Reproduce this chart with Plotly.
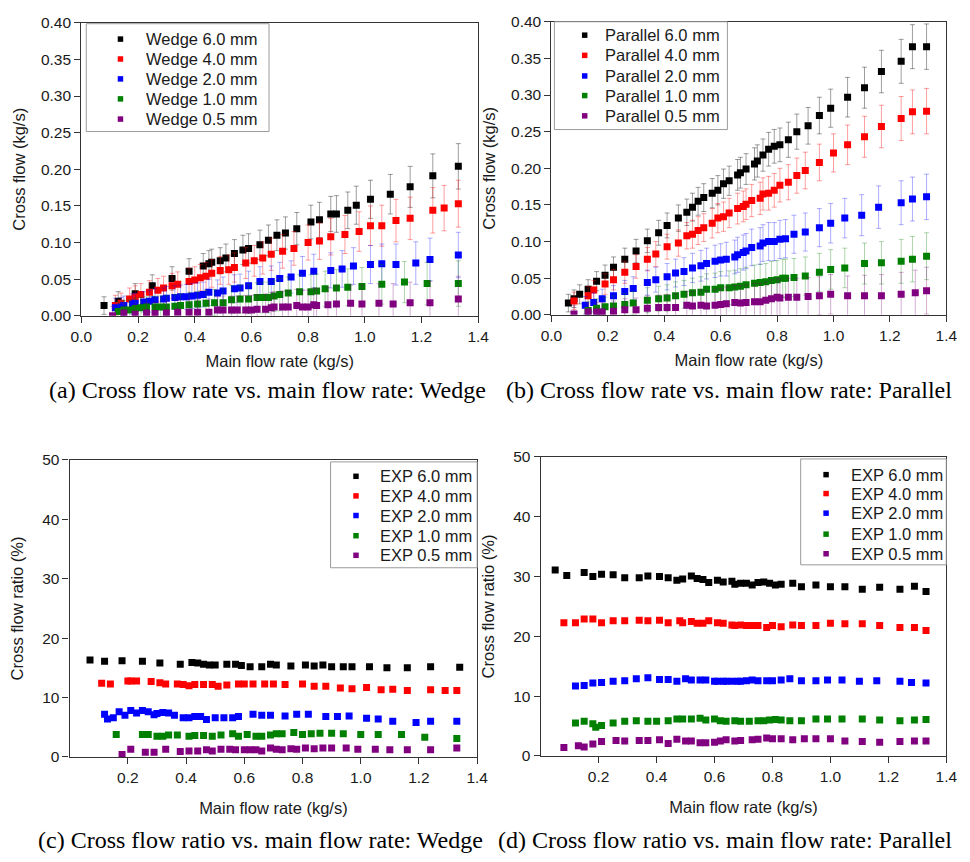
import plotly.graph_objects as go

W, H = 970, 862

# ---------------- data ----------------
# (a) Wedge: cross flow (kg/s) vs main flow rate (kg/s)
A6_x = [0.08,0.13,0.19,0.25,0.32,0.38,0.43,0.45,0.46,0.49,0.51,0.54,0.57,0.59,0.63,0.66,0.69,0.72,0.76,0.81,0.84,0.88,0.90,0.94,0.97,1.02,1.09,1.16,1.24,1.33]
A6_y = [0.014,0.020,0.030,0.041,0.051,0.061,0.068,0.071,0.073,0.075,0.079,0.085,0.090,0.092,0.097,0.103,0.110,0.113,0.119,0.128,0.131,0.139,0.139,0.144,0.151,0.159,0.166,0.176,0.191,0.204]
A6_e = [0.012,0.013,0.014,0.015,0.016,0.017,0.017,0.018,0.018,0.018,0.019,0.019,0.020,0.020,0.020,0.021,0.021,0.022,0.022,0.023,0.024,0.024,0.025,0.025,0.026,0.026,0.027,0.028,0.030,0.031]

A4_x = [0.12,0.14,0.17,0.19,0.21,0.24,0.27,0.29,0.32,0.34,0.38,0.40,0.42,0.44,0.46,0.49,0.52,0.54,0.58,0.61,0.64,0.67,0.71,0.75,0.80,0.84,0.88,0.93,0.98,1.02,1.06,1.11,1.16,1.24,1.28,1.33]
A4_y = [0.014,0.017,0.023,0.026,0.029,0.032,0.035,0.038,0.041,0.043,0.047,0.049,0.052,0.054,0.058,0.062,0.063,0.066,0.072,0.075,0.079,0.084,0.088,0.092,0.100,0.102,0.108,0.111,0.115,0.123,0.123,0.130,0.133,0.144,0.147,0.153]
A4_e = [0.014,0.014,0.015,0.015,0.015,0.016,0.016,0.016,0.017,0.017,0.018,0.018,0.018,0.019,0.019,0.019,0.020,0.020,0.021,0.021,0.022,0.022,0.023,0.023,0.024,0.025,0.025,0.026,0.027,0.027,0.028,0.029,0.029,0.031,0.031,0.032]

A2_x = [0.12,0.14,0.15,0.18,0.19,0.22,0.24,0.26,0.29,0.30,0.33,0.35,0.37,0.39,0.41,0.43,0.45,0.48,0.50,0.54,0.56,0.59,0.63,0.67,0.70,0.74,0.78,0.82,0.88,0.92,0.96,1.02,1.06,1.11,1.18,1.23,1.33]
A2_y = [0.011,0.012,0.014,0.016,0.017,0.019,0.020,0.022,0.023,0.024,0.025,0.026,0.026,0.027,0.028,0.029,0.032,0.031,0.034,0.037,0.038,0.041,0.047,0.047,0.051,0.053,0.058,0.061,0.062,0.064,0.068,0.070,0.071,0.070,0.072,0.077,0.083]
A2_e = [0.013,0.013,0.013,0.014,0.014,0.014,0.015,0.015,0.015,0.016,0.016,0.016,0.017,0.017,0.017,0.017,0.018,0.018,0.019,0.019,0.019,0.020,0.020,0.021,0.022,0.022,0.023,0.023,0.024,0.025,0.025,0.026,0.027,0.028,0.029,0.029,0.031]

A1_x = [0.13,0.15,0.17,0.19,0.21,0.23,0.26,0.28,0.30,0.33,0.35,0.38,0.41,0.44,0.47,0.50,0.53,0.56,0.59,0.62,0.64,0.66,0.68,0.70,0.73,0.77,0.81,0.83,0.86,0.90,0.94,0.99,1.06,1.14,1.22,1.33]
A1_y = [0.006,0.008,0.008,0.010,0.011,0.012,0.012,0.012,0.012,0.013,0.014,0.015,0.016,0.017,0.018,0.018,0.022,0.023,0.023,0.025,0.025,0.025,0.027,0.029,0.031,0.033,0.033,0.034,0.037,0.038,0.039,0.040,0.043,0.046,0.044,0.044]
A1_e = [0.013,0.013,0.014,0.014,0.014,0.014,0.015,0.015,0.016,0.016,0.016,0.017,0.017,0.018,0.018,0.019,0.019,0.019,0.020,0.020,0.021,0.021,0.021,0.022,0.022,0.023,0.023,0.023,0.024,0.025,0.025,0.026,0.027,0.028,0.029,0.031]

A05_x = [0.11,0.15,0.19,0.23,0.26,0.30,0.34,0.38,0.41,0.45,0.48,0.50,0.53,0.55,0.58,0.60,0.62,0.65,0.67,0.68,0.71,0.73,0.76,0.78,0.80,0.82,0.83,0.87,0.90,0.95,0.99,1.05,1.10,1.16,1.23,1.33]
A05_y = [0.000,0.004,0.002,0.004,0.003,0.004,0.005,0.005,0.005,0.005,0.008,0.008,0.008,0.008,0.008,0.008,0.009,0.009,0.011,0.012,0.012,0.012,0.014,0.012,0.012,0.015,0.014,0.015,0.016,0.017,0.016,0.017,0.016,0.018,0.018,0.023]
A05_e = [0.013,0.013,0.014,0.014,0.015,0.016,0.016,0.017,0.017,0.018,0.018,0.019,0.019,0.019,0.020,0.020,0.020,0.021,0.021,0.021,0.022,0.022,0.022,0.023,0.023,0.023,0.023,0.024,0.025,0.025,0.026,0.027,0.028,0.028,0.029,0.031]

# (b) Parallel: cross flow (kg/s)
B6_x = [0.06,0.08,0.10,0.13,0.16,0.19,0.22,0.26,0.30,0.34,0.38,0.41,0.45,0.48,0.50,0.52,0.54,0.57,0.59,0.61,0.63,0.66,0.67,0.69,0.72,0.73,0.75,0.77,0.79,0.81,0.84,0.87,0.91,0.95,0.99,1.05,1.11,1.17,1.24,1.28,1.33]
B6_y = [0.016,0.022,0.028,0.035,0.046,0.054,0.065,0.076,0.087,0.101,0.112,0.122,0.132,0.140,0.147,0.155,0.160,0.166,0.170,0.179,0.183,0.191,0.194,0.199,0.206,0.210,0.218,0.226,0.230,0.232,0.239,0.250,0.258,0.272,0.282,0.297,0.310,0.332,0.346,0.366,0.366]
B6_e = [0.012,0.012,0.013,0.013,0.013,0.014,0.014,0.015,0.016,0.016,0.017,0.017,0.018,0.018,0.019,0.019,0.019,0.020,0.020,0.020,0.020,0.021,0.021,0.021,0.022,0.022,0.022,0.023,0.023,0.023,0.024,0.024,0.025,0.025,0.026,0.027,0.028,0.029,0.030,0.030,0.031]

B4_x = [0.08,0.13,0.15,0.19,0.22,0.26,0.30,0.34,0.37,0.41,0.45,0.48,0.50,0.52,0.54,0.57,0.59,0.61,0.63,0.66,0.68,0.69,0.71,0.74,0.75,0.77,0.79,0.81,0.84,0.87,0.90,0.95,1.00,1.05,1.11,1.17,1.24,1.28,1.33]
B4_y = [0.019,0.026,0.034,0.042,0.048,0.058,0.066,0.076,0.083,0.093,0.098,0.108,0.110,0.115,0.119,0.125,0.132,0.134,0.139,0.145,0.148,0.151,0.156,0.159,0.165,0.166,0.170,0.177,0.181,0.190,0.197,0.208,0.221,0.232,0.243,0.257,0.268,0.277,0.278]
B4_e = [0.012,0.013,0.013,0.014,0.014,0.015,0.016,0.016,0.017,0.017,0.018,0.018,0.019,0.019,0.019,0.020,0.020,0.020,0.020,0.021,0.021,0.021,0.022,0.022,0.022,0.023,0.023,0.023,0.024,0.024,0.025,0.025,0.026,0.027,0.028,0.029,0.030,0.030,0.031]

B2_x = [0.12,0.15,0.18,0.22,0.26,0.29,0.34,0.37,0.41,0.44,0.47,0.50,0.53,0.55,0.58,0.60,0.62,0.65,0.66,0.68,0.69,0.71,0.74,0.75,0.77,0.79,0.81,0.83,0.86,0.90,0.95,0.99,1.04,1.10,1.16,1.24,1.28,1.33]
B2_y = [0.013,0.017,0.022,0.026,0.032,0.036,0.044,0.048,0.052,0.057,0.059,0.064,0.067,0.070,0.073,0.075,0.076,0.079,0.082,0.085,0.087,0.092,0.094,0.098,0.100,0.100,0.103,0.104,0.110,0.113,0.119,0.125,0.132,0.136,0.147,0.153,0.158,0.161]
B2_e = [0.012,0.013,0.013,0.014,0.015,0.016,0.017,0.017,0.018,0.019,0.019,0.020,0.021,0.021,0.022,0.022,0.023,0.023,0.024,0.024,0.024,0.025,0.025,0.025,0.026,0.026,0.026,0.026,0.026,0.026,0.026,0.027,0.027,0.028,0.029,0.030,0.030,0.031]

B1_x = [0.13,0.16,0.19,0.22,0.26,0.29,0.34,0.38,0.41,0.44,0.47,0.50,0.53,0.55,0.58,0.60,0.63,0.65,0.67,0.69,0.72,0.74,0.76,0.78,0.80,0.82,0.83,0.86,0.90,0.95,0.99,1.04,1.11,1.17,1.24,1.28,1.33]
B1_y = [0.006,0.009,0.011,0.012,0.014,0.016,0.020,0.022,0.023,0.026,0.028,0.030,0.031,0.035,0.035,0.037,0.037,0.038,0.039,0.041,0.043,0.044,0.045,0.047,0.048,0.050,0.050,0.051,0.053,0.058,0.062,0.064,0.070,0.071,0.073,0.076,0.080]
B1_e = [0.012,0.013,0.013,0.014,0.015,0.016,0.017,0.017,0.018,0.019,0.019,0.020,0.021,0.021,0.022,0.022,0.023,0.023,0.024,0.024,0.025,0.025,0.025,0.026,0.026,0.026,0.026,0.026,0.026,0.026,0.027,0.027,0.028,0.029,0.030,0.031,0.032]

B05_x = [0.08,0.13,0.16,0.18,0.22,0.26,0.30,0.34,0.38,0.41,0.44,0.48,0.50,0.53,0.55,0.58,0.60,0.62,0.65,0.67,0.69,0.72,0.74,0.76,0.78,0.80,0.81,0.84,0.87,0.91,0.95,0.99,1.05,1.11,1.17,1.24,1.29,1.33]
B05_y = [0.001,0.004,0.004,0.004,0.005,0.007,0.007,0.009,0.010,0.010,0.010,0.013,0.012,0.013,0.012,0.013,0.014,0.015,0.017,0.016,0.017,0.018,0.018,0.020,0.022,0.024,0.023,0.024,0.024,0.025,0.026,0.028,0.026,0.026,0.026,0.028,0.030,0.033]
B05_e = [0.012,0.012,0.013,0.013,0.014,0.015,0.016,0.017,0.017,0.018,0.019,0.019,0.020,0.021,0.021,0.022,0.022,0.023,0.023,0.024,0.024,0.025,0.025,0.025,0.026,0.026,0.026,0.026,0.026,0.026,0.026,0.027,0.027,0.028,0.029,0.030,0.031,0.032]

# (c) Wedge: cross flow ratio (%)
C6_x = [0.07,0.12,0.18,0.25,0.31,0.38,0.42,0.44,0.46,0.48,0.50,0.54,0.57,0.59,0.62,0.66,0.69,0.71,0.76,0.81,0.84,0.87,0.90,0.94,0.97,1.03,1.09,1.16,1.24,1.34]
C6_y = [16.3,16.1,16.2,16.1,15.8,15.6,15.9,15.8,15.6,15.5,15.5,15.6,15.6,15.4,15.2,15.2,15.6,15.5,15.3,15.5,15.3,15.5,15.2,15.2,15.2,15.2,15.0,15.0,15.2,15.1]
C4_x = [0.11,0.14,0.20,0.21,0.23,0.28,0.31,0.33,0.37,0.39,0.41,0.43,0.46,0.49,0.51,0.54,0.58,0.60,0.63,0.67,0.70,0.74,0.80,0.84,0.88,0.93,0.97,1.02,1.07,1.11,1.16,1.24,1.29,1.33]
C4_y = [12.4,12.3,12.8,12.8,12.8,12.7,12.5,12.3,12.3,12.2,12.0,12.2,12.2,12.2,11.9,12.1,12.3,12.3,12.3,12.3,12.3,12.2,12.3,11.9,11.9,11.6,11.5,11.7,11.3,11.4,11.2,11.3,11.2,11.2]
C2_x = [0.12,0.13,0.15,0.17,0.19,0.21,0.23,0.25,0.27,0.29,0.30,0.32,0.34,0.36,0.39,0.41,0.43,0.45,0.47,0.50,0.53,0.56,0.58,0.63,0.66,0.69,0.74,0.78,0.82,0.88,0.92,0.96,1.02,1.06,1.11,1.19,1.24,1.33]
C2_y = [7.2,6.4,6.6,7.6,7.0,7.8,7.4,7.8,7.6,7.1,7.3,7.5,7.4,7.0,6.6,6.6,6.8,6.8,6.3,6.6,6.6,6.6,6.8,7.2,7.0,7.0,6.9,7.2,7.2,6.8,6.8,6.9,6.5,6.4,6.0,5.8,6.0,6.0]
C1_x = [0.16,0.25,0.27,0.30,0.32,0.34,0.37,0.41,0.43,0.46,0.49,0.52,0.56,0.58,0.61,0.64,0.66,0.69,0.71,0.73,0.77,0.80,0.83,0.86,0.90,0.94,1.00,1.06,1.14,1.22,1.33]
C1_y = [3.8,3.8,3.8,3.5,3.5,3.7,3.7,3.5,3.6,3.6,3.5,3.7,3.9,3.5,3.8,3.5,3.5,3.7,3.9,3.9,4.1,3.8,3.9,4.0,4.0,3.9,3.8,3.8,3.8,3.3,3.1]
C05_x = [0.18,0.21,0.26,0.29,0.33,0.38,0.41,0.44,0.47,0.49,0.52,0.55,0.57,0.60,0.62,0.64,0.66,0.69,0.71,0.73,0.76,0.78,0.81,0.84,0.87,0.90,0.95,0.99,1.05,1.10,1.16,1.24,1.33]
C05_y = [0.4,1.3,0.8,0.8,1.3,0.9,1.0,1.0,1.2,1.0,1.3,1.3,1.2,1.2,1.2,1.2,1.0,1.5,1.3,1.2,1.4,1.3,1.5,1.4,1.5,1.5,1.5,1.3,1.3,1.2,1.2,1.2,1.5]

# (d) Parallel: cross flow ratio (%)
D6_x = [0.05,0.09,0.15,0.18,0.21,0.25,0.29,0.34,0.37,0.41,0.44,0.47,0.49,0.52,0.54,0.56,0.58,0.61,0.63,0.66,0.67,0.69,0.71,0.73,0.75,0.77,0.79,0.81,0.83,0.87,0.90,0.95,1.00,1.05,1.11,1.17,1.24,1.29,1.33]
D6_y = [31.1,30.2,30.7,30.0,30.4,30.3,29.8,29.8,30.1,30.0,29.8,29.4,29.6,30.1,29.7,29.5,29.0,29.4,29.1,29.2,28.7,28.9,28.9,28.6,29.0,29.1,28.9,28.6,28.7,28.9,28.3,28.6,28.3,28.3,27.9,28.2,27.9,28.4,27.5]
D4_x = [0.08,0.12,0.15,0.18,0.21,0.25,0.29,0.34,0.37,0.41,0.44,0.48,0.49,0.52,0.54,0.56,0.58,0.61,0.63,0.66,0.67,0.69,0.71,0.73,0.75,0.78,0.80,0.83,0.87,0.90,0.95,1.00,1.05,1.11,1.17,1.24,1.29,1.33]
D4_y = [22.3,22.3,22.9,22.9,22.3,22.6,22.6,22.7,22.6,22.7,22.3,22.6,22.3,22.5,22.2,22.2,22.6,22.3,22.2,21.9,21.8,21.9,21.8,21.8,21.8,21.5,21.8,21.6,21.9,21.8,21.8,22.2,22.1,22.1,21.8,21.5,21.5,21.0]
D2_x = [0.12,0.15,0.18,0.21,0.25,0.29,0.33,0.37,0.41,0.44,0.47,0.50,0.52,0.55,0.57,0.60,0.61,0.63,0.64,0.66,0.68,0.69,0.71,0.73,0.75,0.78,0.80,0.83,0.86,0.90,0.95,0.99,1.04,1.10,1.16,1.24,1.28,1.33]
D2_y = [11.7,11.8,12.2,12.3,12.5,12.6,12.9,13.1,12.8,12.8,12.5,12.9,12.7,12.7,12.7,12.5,12.5,12.5,12.5,12.5,12.5,12.5,12.6,12.7,12.6,12.6,12.6,12.7,12.9,12.6,12.6,12.7,12.7,12.5,12.6,12.5,12.3,12.2]
D1_x = [0.12,0.15,0.18,0.19,0.21,0.25,0.29,0.33,0.37,0.40,0.44,0.47,0.49,0.52,0.55,0.57,0.60,0.62,0.64,0.67,0.69,0.72,0.75,0.77,0.79,0.81,0.83,0.86,0.90,0.95,0.99,1.04,1.11,1.17,1.24,1.29,1.33]
D1_y = [5.5,5.8,5.4,4.8,5.1,5.5,5.8,5.9,5.8,5.8,5.9,6.2,6.2,6.2,6.3,6.0,6.2,5.9,5.8,5.9,5.8,5.8,5.9,5.9,6.0,6.1,6.0,5.9,5.9,6.2,6.2,6.2,6.2,6.0,5.9,6.0,6.1]
D05_x = [0.08,0.13,0.15,0.18,0.21,0.26,0.29,0.34,0.37,0.41,0.44,0.47,0.50,0.52,0.55,0.57,0.60,0.62,0.64,0.67,0.69,0.73,0.75,0.78,0.80,0.83,0.87,0.91,0.95,1.00,1.05,1.11,1.17,1.24,1.29,1.33]
D05_y = [1.4,1.7,1.5,2.0,2.4,2.6,2.5,2.6,2.6,2.7,2.1,2.8,2.5,2.5,2.2,2.2,2.3,2.5,2.7,2.5,2.6,2.7,2.8,3.0,2.9,2.9,2.7,2.9,2.9,2.9,2.5,2.4,2.3,2.4,2.5,2.5]

WEDGE_NAMES = ["Wedge 6.0 mm", "Wedge 4.0 mm", "Wedge 2.0 mm", "Wedge 1.0 mm", "Wedge 0.5 mm"]
PARALLEL_NAMES = ["Parallel 6.0 mm", "Parallel 4.0 mm", "Parallel 2.0 mm", "Parallel 1.0 mm", "Parallel 0.5 mm"]
EXP_NAMES = ["EXP 6.0 mm", "EXP 4.0 mm", "EXP 2.0 mm", "EXP 1.0 mm", "EXP 0.5 mm"]

FLOW_TICKS = [0.00, 0.05, 0.10, 0.15, 0.20, 0.25, 0.30, 0.35, 0.40]
MAIN_TICKS_AB = [0.0, 0.2, 0.4, 0.6, 0.8, 1.0, 1.2, 1.4]
MAIN_TICKS_CD = [0.2, 0.4, 0.6, 0.8, 1.0, 1.2, 1.4]
RATIO_TICKS = [0, 10, 20, 30, 40, 50]

CAPTIONS = ["(a) Cross flow rate vs. main flow rate: Wedge",
            "(b) Cross flow rate vs. main flow rate: Parallel",
            "(c) Cross flow ratio vs. main flow rate: Wedge",
            "(d) Cross flow ratio vs. main flow rate: Parallel"]

# ---------------- styling ----------------
COLORS = ["#000000", "#FF0000", "#0000FF", "#008000", "#800080"]
ERR_COLORS = ["rgba(0,0,0,0.38)", "rgba(255,0,0,0.38)", "rgba(0,0,255,0.32)",
              "rgba(0,128,0,0.32)", "rgba(128,0,128,0.32)"]
SANS = "Liberation Sans, Arial, sans-serif"
SERIF = "Liberation Serif, Times New Roman, serif"
TXT = "#1a1a1a"
AX = "#333333"


def px(x):
    return x / W


def py(y):
    return 1 - y / H


fig = go.Figure()

panels = [
    ("x", "y", [(A6_x, A6_y, A6_e), (A4_x, A4_y, A4_e), (A2_x, A2_y, A2_e), (A1_x, A1_y, A1_e), (A05_x, A05_y, A05_e)], WEDGE_NAMES),
    ("x2", "y2", [(B6_x, B6_y, B6_e), (B4_x, B4_y, B4_e), (B2_x, B2_y, B2_e), (B1_x, B1_y, B1_e), (B05_x, B05_y, B05_e)], PARALLEL_NAMES),
    ("x3", "y3", [(C6_x, C6_y, None), (C4_x, C4_y, None), (C2_x, C2_y, None), (C1_x, C1_y, None), (C05_x, C05_y, None)], EXP_NAMES),
    ("x4", "y4", [(D6_x, D6_y, None), (D4_x, D4_y, None), (D2_x, D2_y, None), (D1_x, D1_y, None), (D05_x, D05_y, None)], EXP_NAMES),
]

for xa, ya, series, names in panels:
    for i, (xs, ys, es) in enumerate(series):
        kw = {}
        if es is not None:
            kw["error_y"] = dict(type="data", array=es, visible=True, color=ERR_COLORS[i],
                                 thickness=1, width=2.5)
        fig.add_trace(go.Scatter(
            x=xs, y=ys, mode="markers", name=names[i], showlegend=False,
            marker=dict(symbol="square", size=7, color=COLORS[i], line=dict(width=0)),
            xaxis=xa, yaxis=ya, **kw))


def axis(domain, anchor, rng, tickvals, fmt, title, standoff):
    return dict(domain=domain, anchor=anchor, range=rng, tickvals=tickvals, tickformat=fmt,
                showline=True, linecolor=AX, linewidth=1.3, mirror=True,
                ticks="outside", ticklen=6, tickwidth=1, tickcolor=AX,
                showgrid=False, zeroline=False,
                tickfont=dict(family=SANS, size=15.5, color=TXT),
                title=dict(text=title, font=dict(family=SANS, size=16.5, color=TXT), standoff=standoff))


# panel pixel boxes: (left, top, right, bottom)
BOX_A = (72, 14, 478, 313)
BOX_B = (553, 13, 957, 312)
BOX_C = (60, 460, 477, 763)
BOX_D = (542, 457, 957, 762)


def xd(b):
    return [px(b[0]), px(b[2])]


def yd(b):
    return [py(b[3]), py(b[1])]


fig.update_layout(
    width=W, height=H, margin=dict(l=0, r=0, t=0, b=0),
    paper_bgcolor="white", plot_bgcolor="white", showlegend=False,
    xaxis=axis(xd(BOX_A), "y", [0, 1.4], MAIN_TICKS_AB, ".1f", "Main flow rate (kg/s)", 11),
    yaxis=axis(yd(BOX_A), "x", [0, 0.40], FLOW_TICKS, ".2f", "Cross flow (kg/s)", 11),
    xaxis2=axis(xd(BOX_B), "y2", [0, 1.4], MAIN_TICKS_AB, ".1f", "Main flow rate (kg/s)", 11),
    yaxis2=axis(yd(BOX_B), "x2", [0, 0.40], FLOW_TICKS, ".2f", "Cross flow (kg/s)", 11),
    xaxis3=axis(xd(BOX_C), "y3", [0, 1.4], MAIN_TICKS_CD, ".1f", "Main flow rate (kg/s)", 17),
    yaxis3=axis(yd(BOX_C), "x3", [0, 50], RATIO_TICKS, "d", "Cross flow ratio (%)", 14),
    xaxis4=axis(xd(BOX_D), "y4", [0, 1.4], MAIN_TICKS_CD, ".1f", "Main flow rate (kg/s)", 17),
    yaxis4=axis(yd(BOX_D), "x4", [0, 50], RATIO_TICKS, "d", "Cross flow ratio (%)", 14),
)

# ---------------- legends (box, square markers, labels) ----------------
legends = [
    # box (l, t, r, b), marker x, text x, row y's, names
    ((77, 15, 264, 125), 112, 136, [30.7, 51.0, 71.3, 91.7, 112.3], WEDGE_NAMES),
    ((556, 13, 733, 123), 587, 606, [26.7, 47.3, 68.3, 88.3, 109.0], PARALLEL_NAMES),
    ((327, 462, 477, 570), 353, 376, [476.7, 496.7, 516.7, 537.3, 557.3], EXP_NAMES),
    ((808, 459, 957, 567), 834, 857, [475.0, 494.3, 514.3, 535.7, 555.7], EXP_NAMES),
]
shapes = []
annotations = []
for (l, t, r, b), mx, tx, rows, names in legends:
    shapes.append(dict(type="rect", xref="paper", yref="paper", x0=px(l), x1=px(r), y0=py(b), y1=py(t),
                       line=dict(color="#9a9a9a", width=1), fillcolor="rgba(255,255,255,0)", layer="above"))
    for i, ry in enumerate(rows):
        shapes.append(dict(type="rect", xref="paper", yref="paper",
                           x0=px(mx - 2.8), x1=px(mx + 2.8), y0=py(ry + 2.8), y1=py(ry - 2.8),
                           line=dict(width=0), fillcolor=COLORS[i], layer="above"))
        annotations.append(dict(xref="paper", yref="paper", x=px(tx), y=py(ry), text=names[i],
                                showarrow=False, xanchor="left", yanchor="middle",
                                font=dict(family=SANS, size=16.5, color=TXT)))

# captions
caps = [(262, 389), (735, 389), (255, 848), (731, 848)]
for (cx, cy), txt in zip(caps, CAPTIONS):
    annotations.append(dict(xref="paper", yref="paper", x=px(cx), y=py(cy), text=txt, showarrow=False,
                            xanchor="center", yanchor="middle",
                            font=dict(family=SERIF, size=24, color="#000000")))

fig.update_layout(shapes=shapes, annotations=annotations)

fig.write_html("out.html")
